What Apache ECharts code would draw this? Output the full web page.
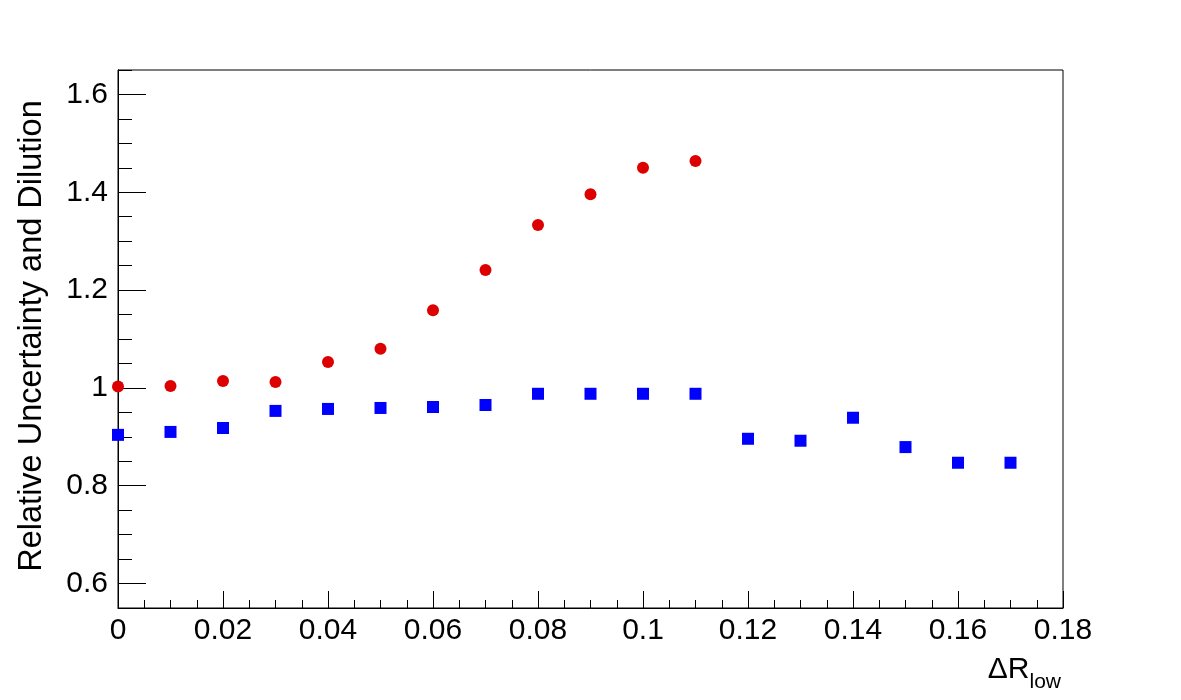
<!DOCTYPE html>
<html>
<head>
<meta charset="utf-8">
<script src="https://cdn.jsdelivr.net/npm/echarts@6/dist/echarts.min.js"></script>
<style>html,body{margin:0;padding:0;background:#fff;}#c{width:1181px;height:700px;}</style>
</head>
<body>
<div id="c"></div>
<script>
const redX = [0, 0.01, 0.02, 0.03, 0.04, 0.05, 0.06, 0.07, 0.08, 0.09, 0.10, 0.11];
const redY = [1.003, 1.004, 1.014, 1.012, 1.053, 1.080, 1.159, 1.241, 1.333, 1.396, 1.450, 1.464];
const blueX = [0, 0.01, 0.02, 0.03, 0.04, 0.05, 0.06, 0.07, 0.08, 0.09, 0.10, 0.11, 0.12, 0.13, 0.14, 0.15, 0.16, 0.17];
const blueY = [0.904, 0.910, 0.918, 0.953, 0.957, 0.959, 0.961, 0.965, 0.988, 0.988, 0.988, 0.988, 0.896, 0.892, 0.939, 0.879, 0.847, 0.847];
const yMajorTicks = [0.6, 0.8, 1.0, 1.2, 1.4, 1.6];
const yMinorTicks = [0.55, 0.65, 0.7, 0.75, 0.85, 0.9, 0.95, 1.05, 1.1, 1.15, 1.25, 1.3, 1.35, 1.45, 1.5, 1.55, 1.65];
const yTitle = 'Relative Uncertainty and Dilution';

const font = 'Liberation Sans, Arial, Helvetica, sans-serif';
const chart = echarts.init(document.getElementById('c'), null, {renderer: 'canvas'});
const fmt = v => String(parseFloat(Number(v).toFixed(4)));

const yBase = {
  type: 'value', min: 0.55, max: 1.65, position: 'left',
  splitLine: {show: false},
  axisLine: {show: true, lineStyle: {color: '#000', width: 1}}
};

chart.setOption({
  animation: false,
  grid: {left: 118, right: 118, top: 70, bottom: 92, show: true, borderColor: '#000', borderWidth: 1, backgroundColor: 'transparent'},
  xAxis: {
    type: 'value', min: 0, max: 0.18, interval: 0.02,
    splitLine: {show: false},
    axisLine: {show: true, lineStyle: {color: '#000', width: 1}},
    axisTick: {show: true, inside: true, length: 17, lineStyle: {color: '#000'}},
    minorTick: {show: true, splitNumber: 4, length: 8, lineStyle: {color: '#000'}},
    minorSplitLine: {show: false},
    axisLabel: {color: '#000', fontFamily: font, fontSize: 30, margin: 8, formatter: fmt, showMinLabel: true, showMaxLabel: true}
  },
  yAxis: [
    Object.assign({}, yBase, {
      axisTick: {show: true, inside: true, length: 28, lineStyle: {color: '#000'}, customValues: yMajorTicks},
      axisLabel: {color: '#000', fontFamily: font, fontSize: 30, margin: 10, formatter: fmt, customValues: yMajorTicks}
    }),
    Object.assign({}, yBase, {
      axisTick: {show: true, inside: true, length: 14, lineStyle: {color: '#000'}, customValues: yMinorTicks},
      axisLabel: {show: false}
    })
  ],
  graphic: [
    {
      type: 'text', x: 32, y: 336, rotation: Math.PI / 2,
      style: {text: yTitle, fontFamily: font, fontSize: 32.5, fill: '#000', align: 'center', verticalAlign: 'middle'}
    },
    {
      type: 'text', right: 120, top: 655,
      style: {
        text: '{a|ΔR}{b|low}', fontFamily: font, fill: '#000',
        rich: {
          a: {fontSize: 30, fontFamily: font, fill: '#000', verticalAlign: 'bottom'},
          b: {fontSize: 21, fontFamily: font, fill: '#000', verticalAlign: 'bottom', padding: [0, 0, -8, 0]}
        }
      }
    }
  ],
  series: [
    {
      type: 'scatter', symbol: 'circle', symbolSize: 12, yAxisIndex: 0,
      itemStyle: {color: '#dd0000', opacity: 1},
      data: redX.map((x, i) => [x, redY[i]]), z: 3
    },
    {
      type: 'scatter', symbol: 'rect', symbolSize: 12, yAxisIndex: 0,
      itemStyle: {color: '#0000ff', opacity: 1},
      data: blueX.map((x, i) => [x, blueY[i]]), z: 3
    }
  ]
});
</script>
</body>
</html>
